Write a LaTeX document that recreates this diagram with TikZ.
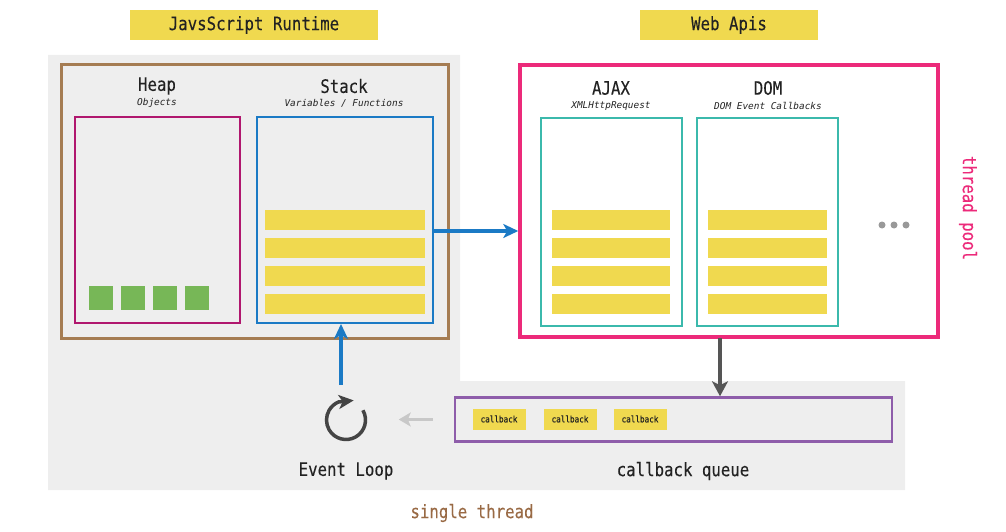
\documentclass[tikz,border=0pt]{standalone}
\usepackage{fontspec}
\setmainfont{DejaVu Sans Mono}[FakeStretch=0.85,FakeBold=0.15]
\newfontfamily\notefont{DejaVu Sans Mono}
\usetikzlibrary{arrows.meta}

\definecolor{ink}{HTML}{222222}
\definecolor{bggray}{HTML}{EEEEEE}
\definecolor{jsyellow}{HTML}{F0D94F}
\definecolor{runbrown}{HTML}{A57C52}
\definecolor{heapred}{HTML}{B0176E}
\definecolor{stackblue}{HTML}{1B7AC5}
\definecolor{heapgreen}{HTML}{77B757}
\definecolor{poolpink}{HTML}{EC2A7A}
\definecolor{apiteal}{HTML}{3BB9AC}
\definecolor{queuepurple}{HTML}{8E5DAA}
\definecolor{dropgray}{HTML}{555555}
\definecolor{backgray}{HTML}{C8C8C8}
\definecolor{loopgray}{HTML}{444444}
\definecolor{dotgray}{HTML}{999999}
\definecolor{threadbrown}{HTML}{996A45}

\begin{document}
\begin{tikzpicture}
[x=1pt,y=-1pt,>={Stealth[length=15pt,width=14pt,inset=4pt]},
title/.style={font=\fontsize{18.5}{20}\selectfont,text=ink,inner sep=0pt},
note/.style={font=\notefont\itshape\fontsize{9.4}{10}\selectfont,text=ink,inner sep=0pt},
tag/.style={fill=jsyellow,minimum height=30pt,inner sep=0pt,font=\fontsize{18.5}{20}\selectfont,text=ink},
outer/.style={draw,line width=3pt,inner sep=0pt},
panel/.style={draw,line width=2pt,inner sep=0pt,minimum height=206pt},
bar/.style={fill=jsyellow,minimum width=#1,minimum height=20pt,inner sep=0pt},
cell/.style={fill=heapgreen,minimum size=24pt,inner sep=0pt},
chip/.style={fill=jsyellow,minimum width=53pt,minimum height=21pt,inner sep=0pt,text=ink,font=\fontsize{9}{10}\selectfont},
]
\useasboundingbox (0,0) rectangle (1006,532);

%Single thread area
\fill[bggray] (48,55) -- (460,55) -- (460,381) -- (905,381) -- (905,490) -- (48,490) -- cycle;

%Top labels
\node (rtlabel) at (254,25)[tag,minimum width=248pt] {JavsScript Runtime};
\node (wlabel) at (729,25)[tag,minimum width=178pt] {Web Apis};

%Runtime: heap and stack
\node (runtime) at (254.5,201.5)[outer,runbrown,minimum width=387pt,minimum height=273pt] {};
\node (heap) at (157.5,220)[panel,heapred,minimum width=165pt] {};
\node (stack) at (345,220)[panel,stackblue,minimum width=176pt] {};
\node (heaptitle) at (157,86)[title] {Heap};
\node (heapnote) at (157,103)[note] {Objects};
\node (stacktitle) at (344,86)[title] {Stack};
\node (stacknote) at (344,103)[note] {Variables / Functions};
\foreach \i in {0,...,3}{
  \node (obj\i) at ({101+32*\i},297.5)[cell] {};
  \node (frame\i) at (345,{219.5+28*\i})[bar=160pt] {};
}

%Web apis: thread pool
\node (webapi) at (729,201)[outer,poolpink,line width=3.5pt,minimum width=418pt,minimum height=272pt] {};
\node (ajax) at (611.5,222)[panel,apiteal,minimum width=141pt,minimum height=208pt] {};
\node (dom) at (767.5,222)[panel,apiteal,minimum width=141pt,minimum height=208pt] {};
\node (ajaxtitle) at (611,88)[title] {AJAX};
\node (ajaxnote) at (611,106)[note] {XMLHttpRequest};
\node (domtitle) at (768,88)[title] {DOM};
\node (domnote) at (768,106)[note] {DOM Event Callbacks};
\foreach \i in {0,...,3}{
  \node (req\i) at (611,{219.5+28*\i})[bar=118pt] {};
  \node (evt\i) at (767.5,{219.5+28*\i})[bar=119pt] {};
}
\foreach \x in {882,894,906} \fill[dotgray] (\x,225) circle[radius=3.5];
\node (pool) at (968,208)[rotate=-90,text=poolpink,font=\fontsize{18.5}{20}\selectfont] {thread pool};

%Callback queue
\node (queue) at (673.5,419.5)[draw=queuepurple,line width=2.5pt,minimum width=437pt,minimum height=44pt] {};
\node (cb1) at (499,419)[chip] {callback};
\node (cb2) at (570,419)[chip] {callback};
\node (cb3) at (640,419)[chip] {callback};
\node (queuetitle) at (683,471)[title] {callback queue};

%Event loop
\coordinate (loop) at (346,420);
\coordinate (loopout) at (341,385);
\coordinate (drop) at (720,338);
\draw[loopgray,line width=3.5pt,-{Stealth[length=15pt,width=14pt,inset=4pt]}] (loop) ++(-30:19.5) arc[start angle=-30,end angle=248,radius=19.5] -- ++(15,-1.5);
\node (looptitle) at (346,471)[title] {Event Loop};
\node (thread) at (472,513)[title,text=threadbrown] {single thread};

%Arrows
\draw[stackblue,line width=3.3pt,->] ([yshift=-11pt]stack.east) -- ([yshift=-11pt]stack.east -| webapi.west);
\draw[stackblue,line width=3.3pt,->] (loopout) -- (loopout |- stack.south);
\draw[dropgray,line width=3.5pt,-{Stealth[length=15pt,width=16pt,inset=4pt]}] (drop) -- (drop |- queue.north);
\draw[backgray,line width=2.5pt,-{Stealth[length=12pt,width=14pt,inset=3pt]}] ([xshift=-21pt]queue.west) -- ([xshift=-55pt]queue.west);
\end{tikzpicture}
\end{document}
